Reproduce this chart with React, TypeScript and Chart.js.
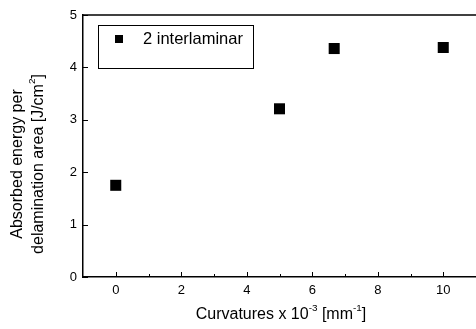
import { useEffect, useRef } from 'react';
import { Chart, registerables } from 'chart.js';
Chart.register(...registerables);

const curvatures = [0, 5, 6.67, 10];
const absorbedEnergy = [1.75, 3.21, 4.36, 4.38];
const seriesLabel = '2 interlaminar';
const xTicks = [0, 2, 4, 6, 8, 10];
const xMinorTicks = [1, 3, 5, 7, 9];
const yTicks = [0, 1, 2, 3, 4, 5];

type Seg = { t: string; sup?: boolean };
const yTitleLines: Seg[][] = [
  [{ t: 'Absorbed energy per' }],
  [{ t: 'delamination area [J/cm' }, { t: '2', sup: true }, { t: ']' }],
];
const xTitle: Seg[] = [
  { t: 'Curvatures x 10' },
  { t: '-3', sup: true },
  { t: ' [mm' },
  { t: '-1', sup: true },
  { t: ']' },
];

const FAMILY = '"Liberation Sans", Arial, sans-serif';
const TITLE_SIZE = 16;

function drawRich(ctx: CanvasRenderingContext2D, segs: Seg[], size: number) {
  const main = `${size}px ${FAMILY}`;
  const sup = `${size * 0.62}px ${FAMILY}`;
  let w = 0;
  segs.forEach((s) => {
    ctx.font = s.sup ? sup : main;
    w += ctx.measureText(s.t).width;
  });
  let x = -w / 2;
  ctx.textBaseline = 'middle';
  ctx.textAlign = 'left';
  segs.forEach((s) => {
    ctx.font = s.sup ? sup : main;
    ctx.fillText(s.t, x, s.sup ? -size * 0.42 : 0);
    x += ctx.measureText(s.t).width;
  });
}

const decor = {
  id: 'decor',
  afterDraw(chart: any) {
    const { ctx, chartArea: ca, scales } = chart;
    const x = scales.x;
    const y = scales.y;
    ctx.save();
    ctx.strokeStyle = '#000';
    ctx.fillStyle = '#000';
    ctx.lineWidth = 1.5;
    ctx.beginPath();
    ctx.moveTo(ca.left, ca.top);
    ctx.lineTo(ca.right, ca.top);
    ctx.stroke();

    ctx.lineWidth = 1;
    const seg = (x1: number, y1: number, x2: number, y2: number) => {
      ctx.beginPath();
      ctx.moveTo(x1, y1);
      ctx.lineTo(x2, y2);
      ctx.stroke();
    };
    xTicks.forEach((v) => {
      const px = Math.round(x.getPixelForValue(v)) + 0.5;
      seg(px, ca.bottom, px, ca.bottom - 5);
    });
    xMinorTicks.forEach((v) => {
      const px = Math.round(x.getPixelForValue(v)) + 0.5;
      seg(px, ca.bottom, px, ca.bottom - 3);
    });
    yTicks.forEach((v) => {
      const py = Math.round(y.getPixelForValue(v)) + 0.5;
      seg(ca.left, py, ca.left + 5, py);
    });

    // legend
    const lx = ca.left + 15;
    const ly = ca.top + 10;
    ctx.lineWidth = 1;
    ctx.strokeRect(lx + 0.5, ly + 0.5, 155, 43);
    ctx.fillRect(lx + 17, ly + 10, 8, 8);
    ctx.font = `16.5px ${FAMILY}`;
    ctx.textBaseline = 'middle';
    ctx.textAlign = 'left';
    ctx.fillText(chart.data.datasets[0].label, lx + 45, ly + 14);

    // axis titles
    ctx.save();
    ctx.translate(281, 315);
    drawRich(ctx, xTitle, TITLE_SIZE);
    ctx.restore();

    const cx = [18, 39];
    yTitleLines.forEach((line, i) => {
      ctx.save();
      ctx.translate(cx[i], 164);
      ctx.rotate(-Math.PI / 2);
      drawRich(ctx, line, TITLE_SIZE);
      ctx.restore();
    });
    ctx.restore();
  },
};

export default function App() {
  const ref = useRef<HTMLCanvasElement>(null);
  useEffect(() => {
    document.body.style.margin = '0';
    const chart = new Chart(ref.current!, {
      type: 'scatter',
      data: {
        datasets: [
          {
            label: seriesLabel,
            data: curvatures.map((c, i) => ({ x: c, y: absorbedEnergy[i] })),
            pointStyle: 'rect',
            pointRadius: 7.8,
            pointHoverRadius: 7.8,
            backgroundColor: '#000',
            borderColor: '#000',
            borderWidth: 0,
          },
        ],
      },
      options: {
        animation: false,
        responsive: false,
        maintainAspectRatio: false,
        layout: { autoPadding: false, padding: { top: 15, right: 0, left: 0, bottom: 0 } },
        plugins: { legend: { display: false }, tooltip: { enabled: false } },
        scales: {
          x: {
            type: 'linear',
            min: -1,
            max: 11,
            afterBuildTicks: (s: any) => {
              s.ticks = xTicks.map((v) => ({ value: v }));
            },
            afterFit: (s: any) => {
              s.height = 52;
            },
            grid: { display: false, drawTicks: false },
            border: { display: true, color: '#000', width: 1.5 },
            ticks: { color: '#000', padding: 6, font: { family: FAMILY, size: 13 }, maxRotation: 0 },
            title: { display: false },
          },
          y: {
            type: 'linear',
            min: 0,
            max: 5,
            afterBuildTicks: (s: any) => {
              s.ticks = yTicks.map((v) => ({ value: v }));
            },
            afterFit: (s: any) => {
              s.width = 83;
            },
            grid: { display: false, drawTicks: false },
            border: { display: true, color: '#000', width: 1.5 },
            ticks: { color: '#000', padding: 6, font: { family: FAMILY, size: 13 } },
            title: { display: false },
          },
        },
      },
      plugins: [decor],
    });
    return () => chart.destroy();
  }, []);
  return <canvas ref={ref} width={476} height={329} style={{ display: 'block' }} />;
}
